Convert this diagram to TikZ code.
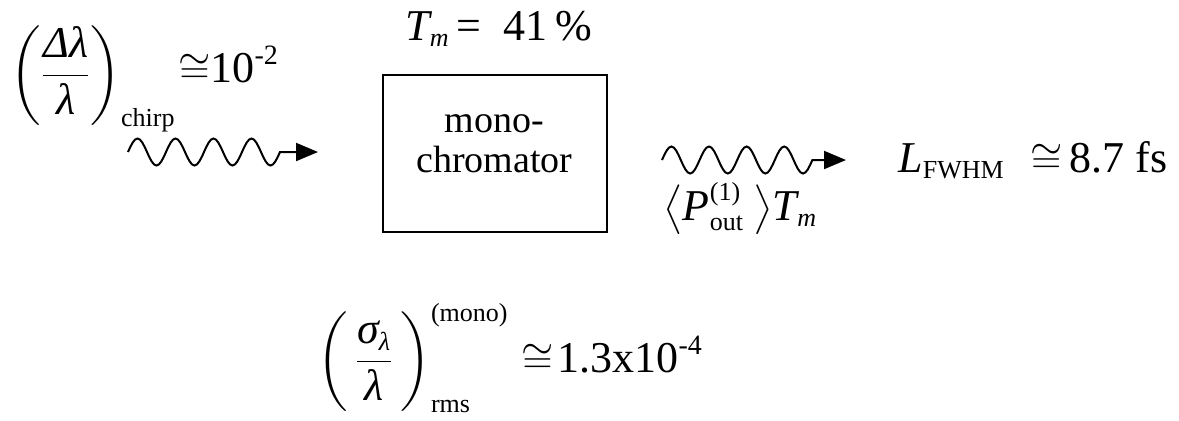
\documentclass[tikz,border=0pt]{standalone}
\usepackage{amsmath}
\usepackage{exscale}
\usepackage{fontspec}
\setmainfont{Liberation Serif}
\usetikzlibrary{arrows.meta}
\DeclareMathSizes{22}{22}{13}{10}
\newcommand{\bigtxt}{\fontsize{22}{26.4}\selectfont}
\newcommand{\pwr}[1]{\raisebox{9pt}{\fontsize{14}{15}\selectfont #1}}
\newcommand{\tallstrut}{\vrule height 28pt depth 17pt width 0pt}
\tikzset{
  lbl/.style={inner sep=0pt, anchor=base west, font=\bigtxt},
  device/.style={draw, line width=1pt, inner sep=0pt, align=center, text depth=10pt, minimum width=112pt, minimum height=78.5pt, font=\fontsize{19}{20}\selectfont},
  ray/.style={line width=1pt, -{Triangle[length=11pt,width=9pt]}}
}

\begin{document}
\begin{tikzpicture}[x=0.5pt, y=-0.5pt]
  \useasboundingbox (0,0) rectangle (1179,420);
  \node[device] (mono) at (494.5,153.5) {mono-\\chromator};
  \node[lbl] (tm) at (405,40) {$\textit{T}_{\textit{m}}$\,=\enspace41\,\%};
  \node[lbl] (chirp) at (10,86) {$\left(\tallstrut\dfrac{\textit{Δλ}}{\textit{λ}}\right)_{\text{chirp}}$};
  \node[lbl] (chirpval) at (178,82) {$\cong$10\pwr{-2}};
  \node[lbl] (pout) at (663,220) {$\bigl\langle\textit{P}^{\text{(1)}}_{\text{out}}\mkern4mu\bigr\rangle\textit{T}_{\textit{m}}$};
  \node[lbl] (lfwhm) at (898,172) {$\textit{L}_{\text{FWHM}}\mkern6mu\cong$\,8.7 fs};
  \node[lbl] (rms) at (317,372) {$\left(\tallstrut\,\dfrac{\textit{σ}_{\textit{λ}}}{\textit{λ}}\,\right)^{\text{(mono)}}_{\text{rms}}$};
  \node[lbl] (rmsval) at (521,372) {$\cong$\kern2pt 1.3x10\pwr{-4}};
  % incoming and outgoing beams
  \coordinate (w1a) at (128,152);
  \coordinate (w1b) at (318,152);
  \coordinate (w2a) at (662,160);
  \coordinate (w2b) at (846,160);
  \draw[ray] (w1a) \foreach \i in {1,...,4}{ sin ++(9.5,-13.5) cos ++(9.5,13.5) sin ++(9.5,13.5) cos ++(9.5,-13.5) } -- (w1b);
  \draw[ray] (w2a) \foreach \i in {1,...,4}{ sin ++(9.4,-13.5) cos ++(9.4,13.5) sin ++(9.4,13.5) cos ++(9.4,-13.5) } -- (w2b);
\end{tikzpicture}
\end{document}
